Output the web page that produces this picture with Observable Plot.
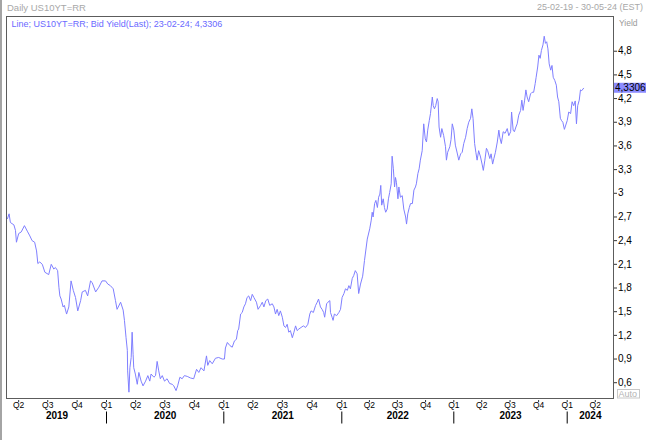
<!DOCTYPE html>
<html>
<head>
<meta charset="utf-8">
<script src="https://cdn.jsdelivr.net/npm/d3@7"></script>
<script src="https://cdn.jsdelivr.net/npm/@observablehq/plot@0.6"></script>
<style>
  html, body { margin: 0; padding: 0; background: #fff; }
  #chart { width: 652px; height: 440px; overflow: hidden; }
</style>
</head>
<body>
<div id="chart"></div>
<script>
const dates = [
"2019-02-25","2019-03-02","2019-03-06","2019-03-17","2019-03-22","2019-03-25","2019-04-01","2019-04-09","2019-04-19","2019-04-28",
"2019-05-06","2019-05-13","2019-05-21","2019-05-27","2019-05-31","2019-06-06","2019-06-14","2019-06-22","2019-07-04","2019-07-12",
"2019-07-20","2019-07-25","2019-08-01","2019-08-05","2019-08-08","2019-08-12","2019-08-18","2019-08-22","2019-08-29","2019-09-05",
"2019-09-12","2019-09-19","2019-09-26","2019-10-03","2019-10-12","2019-10-17","2019-10-27","2019-11-03","2019-11-12","2019-11-17",
"2019-11-28","2019-12-08","2019-12-18","2019-12-29",
"2020-01-05","2020-01-13","2020-01-22","2020-01-29","2020-02-03","2020-02-14","2020-02-22","2020-02-26","2020-03-02","2020-03-06",
"2020-03-07","2020-03-11","2020-03-14","2020-03-18","2020-03-21","2020-03-24","2020-03-26","2020-03-31","2020-04-06","2020-04-11",
"2020-04-18","2020-04-24","2020-05-02","2020-05-09","2020-05-15","2020-05-19","2020-05-28","2020-06-02","2020-06-07","2020-06-12",
"2020-06-17","2020-06-23","2020-06-30","2020-07-08","2020-07-16","2020-07-24","2020-07-29","2020-08-05","2020-08-10","2020-08-17",
"2020-08-24","2020-08-31","2020-09-09","2020-09-19","2020-09-29","2020-10-08","2020-10-15","2020-10-22","2020-10-31","2020-11-08",
"2020-11-12","2020-11-18","2020-11-26","2020-12-06","2020-12-16","2020-12-27",
"2021-01-03","2021-01-06","2021-01-12","2021-01-20","2021-01-27","2021-02-03","2021-02-09","2021-02-13","2021-02-16","2021-02-22",
"2021-02-27","2021-03-04","2021-03-09","2021-03-14","2021-03-19","2021-03-25","2021-03-30","2021-04-04","2021-04-12","2021-04-17",
"2021-04-25","2021-04-30","2021-05-05","2021-05-11","2021-05-17","2021-05-23","2021-05-31","2021-06-05","2021-06-10","2021-06-15",
"2021-06-20","2021-06-25","2021-07-01","2021-07-06","2021-07-11","2021-07-16","2021-07-21","2021-07-26","2021-08-01","2021-08-06",
"2021-08-11","2021-08-16","2021-08-21","2021-08-28","2021-09-04","2021-09-11","2021-09-18","2021-09-24","2021-09-28","2021-10-05",
"2021-10-12","2021-10-17","2021-10-21","2021-10-27","2021-11-01","2021-11-06","2021-11-09","2021-11-15","2021-11-19","2021-11-25",
"2021-11-27","2021-12-02","2021-12-05","2021-12-09","2021-12-16","2021-12-23","2021-12-28",
"2022-01-02","2022-01-08","2022-01-13","2022-01-19","2022-01-24","2022-01-29","2022-02-04","2022-02-09","2022-02-14","2022-02-20",
"2022-02-25","2022-03-03","2022-03-10","2022-03-16","2022-03-25","2022-04-02","2022-04-07","2022-04-10","2022-04-13","2022-04-18",
"2022-04-22","2022-04-27","2022-05-01","2022-05-05","2022-05-08","2022-05-11","2022-05-16","2022-05-20","2022-05-24","2022-05-29",
"2022-06-02","2022-06-06","2022-06-11","2022-06-14","2022-06-18","2022-06-22","2022-06-25","2022-06-28","2022-07-03","2022-07-06",
"2022-07-11","2022-07-17","2022-07-22","2022-07-28","2022-07-31","2022-08-04","2022-08-09","2022-08-13","2022-08-19","2022-08-24",
"2022-08-29","2022-09-01","2022-09-06","2022-09-10","2022-09-14","2022-09-20","2022-09-25","2022-09-30","2022-10-04","2022-10-08",
"2022-10-13","2022-10-17","2022-10-23","2022-10-26","2022-10-30","2022-11-03","2022-11-08","2022-11-11","2022-11-14","2022-11-19",
"2022-11-23","2022-11-29","2022-12-05","2022-12-08","2022-12-12","2022-12-19","2022-12-23","2022-12-27",
"2023-01-01","2023-01-06","2023-01-12","2023-01-17","2023-01-23","2023-01-28","2023-02-02","2023-02-08","2023-02-13","2023-02-18",
"2023-02-24","2023-02-28","2023-03-04","2023-03-09","2023-03-13","2023-03-17","2023-03-22","2023-03-28","2023-04-02","2023-04-06",
"2023-04-11","2023-04-16","2023-04-20","2023-04-27","2023-05-01","2023-05-06","2023-05-10","2023-05-15","2023-05-21","2023-05-26",
"2023-05-29","2023-06-03","2023-06-09","2023-06-15","2023-06-22","2023-06-27","2023-07-03","2023-07-06","2023-07-11","2023-07-15",
"2023-07-20","2023-07-24","2023-07-29","2023-08-04","2023-08-08","2023-08-12","2023-08-17","2023-08-21","2023-08-25","2023-08-30",
"2023-09-05","2023-09-10","2023-09-15","2023-09-20","2023-09-23","2023-09-28","2023-10-02","2023-10-06","2023-10-10","2023-10-15",
"2023-10-19","2023-10-23","2023-10-27","2023-10-31","2023-11-04","2023-11-09","2023-11-13","2023-11-17","2023-11-22","2023-11-27",
"2023-12-01","2023-12-05","2023-12-10","2023-12-14","2023-12-18","2023-12-23",
"2024-01-01","2024-01-06","2024-01-12","2024-01-17","2024-01-22","2024-01-27","2024-01-31","2024-02-04","2024-02-09","2024-02-13",
"2024-02-17","2024-02-23"
];
const yields = [
2.68,2.74,2.63,2.60,2.53,2.38,2.49,2.51,2.59,2.52,
2.46,2.40,2.38,2.27,2.11,2.13,2.10,2.00,1.97,2.10,
2.04,2.06,2.02,1.81,1.70,1.66,1.56,1.58,1.47,1.56,
1.89,1.77,1.68,1.51,1.64,1.75,1.77,1.70,1.89,1.87,
1.75,1.81,1.89,1.89,
1.85,1.83,1.79,1.64,1.53,1.62,1.52,1.39,1.17,1.01,
0.75,0.48,0.79,0.92,1.24,0.96,0.79,0.71,0.58,0.73,
0.62,0.56,0.62,0.69,0.62,0.71,0.67,0.69,0.87,0.75,
0.65,0.69,0.62,0.65,0.59,0.58,0.56,0.50,0.56,0.67,
0.65,0.69,0.68,0.66,0.65,0.77,0.73,0.79,0.75,0.94,
0.82,0.88,0.84,0.91,0.92,0.90,
0.90,1.04,1.11,1.07,1.05,1.13,1.15,1.26,1.28,1.47,
1.49,1.56,1.60,1.68,1.70,1.64,1.72,1.68,1.62,1.53,
1.58,1.62,1.56,1.64,1.66,1.58,1.60,1.56,1.47,1.53,
1.45,1.51,1.43,1.32,1.30,1.34,1.24,1.26,1.17,1.24,
1.32,1.26,1.28,1.30,1.32,1.30,1.34,1.47,1.51,1.49,
1.58,1.62,1.66,1.56,1.53,1.49,1.43,1.60,1.62,1.64,
1.49,1.43,1.39,1.47,1.45,1.49,1.53,
1.68,1.73,1.79,1.77,1.83,1.79,1.92,1.96,2.02,1.98,
1.73,1.85,1.95,2.15,2.42,2.55,2.66,2.76,2.70,2.87,
2.91,2.82,2.95,2.99,3.10,2.85,2.93,2.82,2.76,2.80,
2.93,3.01,3.12,3.47,3.31,3.08,3.20,3.14,2.93,3.08,
2.95,2.97,2.80,2.70,2.61,2.74,2.82,2.87,2.87,3.04,
3.08,3.12,3.25,3.31,3.42,3.54,3.88,3.69,3.65,3.80,
3.92,4.01,4.22,4.11,4.07,4.11,4.20,4.16,3.84,3.71,
3.82,3.73,3.59,3.42,3.52,3.59,3.68,3.88,
3.80,3.61,3.51,3.42,3.50,3.52,3.63,3.71,3.82,3.90,
3.95,4.07,3.95,3.63,3.52,3.42,3.54,3.46,3.37,3.29,
3.42,3.57,3.54,3.44,3.50,3.37,3.44,3.52,3.65,3.80,
3.71,3.63,3.78,3.76,3.82,3.73,3.78,4.03,3.80,3.78,
3.84,3.88,3.99,4.05,4.18,4.05,4.18,4.31,4.22,4.16,
4.26,4.28,4.28,4.39,4.47,4.60,4.75,4.71,4.81,4.88,
4.99,4.90,4.92,4.83,4.64,4.56,4.62,4.47,4.43,4.37,
4.22,4.16,3.95,3.92,3.90,3.81,
3.92,4.03,4.01,4.16,4.11,4.17,3.88,4.11,4.18,4.31,
4.30,4.3306
];
const yTicks = [0.6, 0.9, 1.2, 1.5, 1.8, 2.1, 2.4, 2.7, 3.0, 3.3, 3.6, 3.9, 4.2, 4.5, 4.8];
const quarterTicks = [
"2019-04-01","2019-07-01","2019-10-01","2020-01-01","2020-04-01","2020-07-01","2020-10-01",
"2021-01-01","2021-04-01","2021-07-01","2021-10-01","2022-01-01","2022-04-01","2022-07-01","2022-10-01",
"2023-01-01","2023-04-01","2023-07-01","2023-10-01","2024-01-01","2024-04-01"
];
const quarterLabels = ["Q2","Q3","Q4","Q1","Q2","Q3","Q4","Q1","Q2","Q3","Q4","Q1","Q2","Q3","Q4","Q1","Q2","Q3","Q4","Q1","Q2"];
const yearStarts = ["2020-01-01","2021-01-01","2022-01-01","2023-01-01","2024-01-01"];
const yearLabels = ["2019","2020","2021","2022","2023","2024"];
const periodStart = "2019-02-25";
const periodEnd = "2024-05-30";
const seriesName = "US10YT=RR";

// ---- build ----
const FONT = "'Liberation Sans', Arial, sans-serif";
const parse = s => new Date(s + "T00:00:00Z");
const data = dates.map((d, i) => ({date: parse(d), value: yields[i]}));
const qDates = quarterTicks.map(parse);
const yDates = yearStarts.map(parse);
const t0 = parse(periodStart), t1 = parse(periodEnd);
const bounds = [t0, ...yDates, t1];
const yearMids = yearLabels.map((label, i) => ({label, mid: new Date((+bounds[i] + +bounds[i + 1]) / 2)}));

const loc = d3.formatLocale({decimal: ",", thousands: ".", grouping: [3], currency: ["", ""]});
const fmtTick = loc.format(".2~f");
const fmtLast = loc.format(".4f");
const fmtDate = d3.utcFormat("%d-%m-%y");

const chart = Plot.plot({
  width: 652,
  height: 440,
  marginTop: 16,
  marginLeft: 6,
  marginRight: 39,
  marginBottom: 42,
  style: {fontFamily: FONT, fontSize: "10px", background: "#fff", color: "#000"},
  x: {type: "utc", domain: bounds, range: [7, 106, 223.3, 341.3, 453.3, 566.7, 613]},
  y: {domain: [0.40, 5.24]},
  marks: [
    Plot.frame({stroke: "#5c5c5c"}),
    Plot.axisY({anchor: "right", ticks: yTicks, tickSize: 3, tickPadding: 1.5, tickFormat: fmtTick, label: null, fontSize: 10, stroke: "#333", fill: "#000"}),
    Plot.axisX({anchor: "bottom", ticks: qDates, tickSize: 2, dy: 2, tickFormat: () => "", label: null, stroke: "#333"}),
    Plot.text(qDates, {x: d => d, text: (d, i) => quarterLabels[i], frameAnchor: "bottom", dy: 9, fontSize: 8.5, fill: "#000"}),
    Plot.axisX({anchor: "bottom", ticks: yDates, tickSize: 12, dy: 13.5, tickFormat: () => "", label: null, stroke: "#000"}),
    Plot.text(yearMids, {x: "mid", text: "label", frameAnchor: "bottom", dy: 20.5, fontSize: 10, fontWeight: "bold", fill: "#000"}),
    Plot.lineY(data, {x: "date", y: "value", stroke: "#7f7fff", strokeWidth: 1})
  ]
});
document.getElementById("chart").appendChild(chart);

// ---- header texts and labels drawn into the same svg ----
const svg = d3.select(chart);
const last = data[data.length - 1];
function txt(x, y, s, size, fill, anchor = "start", weight = "normal") {
  return svg.append("text").attr("x", x).attr("y", y).text(s)
    .attr("font-family", FONT).attr("font-size", size).attr("fill", fill)
    .attr("text-anchor", anchor).attr("font-weight", weight);
}
svg.append("rect").attr("x", 0).attr("y", 0).attr("width", 2).attr("height", 440).attr("fill", "#a4a4a4");
txt(7, 10.5, "Daily " + seriesName, 9.5, "#a8a8a8");
txt(643, 10, `${fmtDate(t0)} - ${fmtDate(t1)} (EST)`, 9, "#a8a8a8", "end");
txt(619, 25.5, "Yield", 8.5, "#9a9a9a");
txt(11.5, 26.5, `Line; ${seriesName}; Bid Yield(Last); ${fmtDate(last.date)}; ${fmtLast(last.value)}`, 9, "#6a6aff");

// last value marker on the right axis
const yv = chart.scale("y").apply(last.value);
svg.append("rect").attr("x", 614).attr("y", yv - 5).attr("width", 32).attr("height", 10).attr("fill", "#8c8cff");
txt(615, yv + 3.5, fmtLast(last.value), 10, "#000");

// "Auto" button
svg.append("rect").attr("x", 617.5).attr("y", 389.5).attr("width", 22).attr("height", 8.5)
  .attr("fill", "none").attr("stroke", "#c8c8c8");
txt(618.5, 397, "Auto", 9, "#b4b4b4");
</script>
</body>
</html>
